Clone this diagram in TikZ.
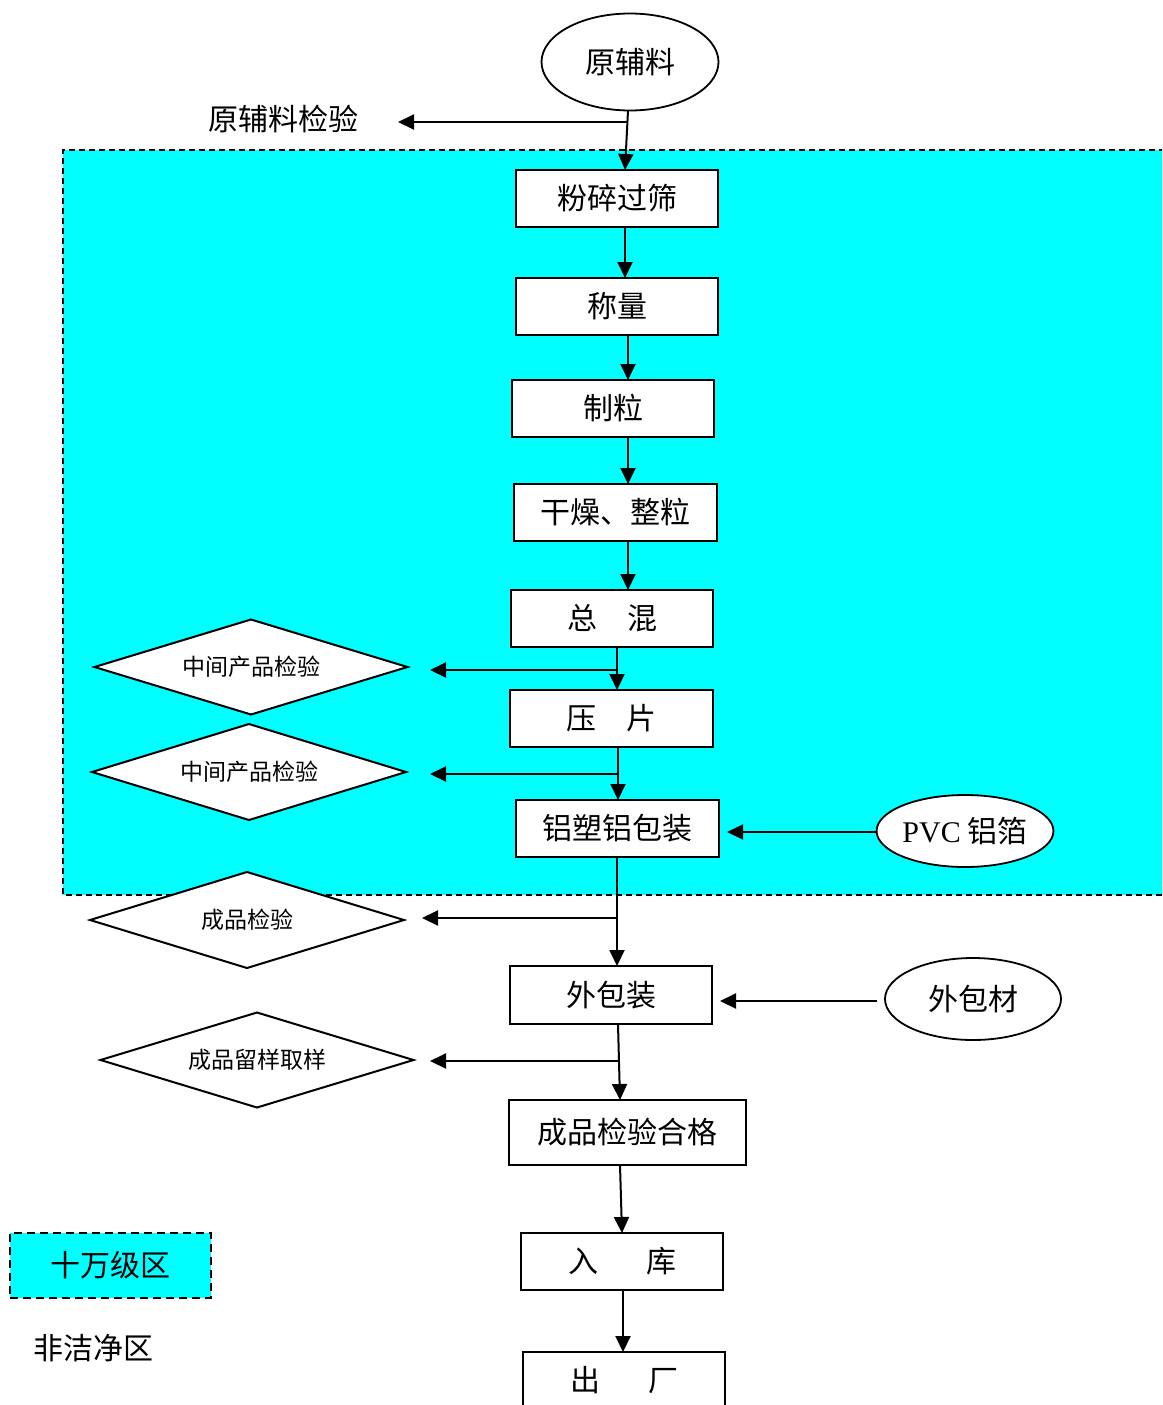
\documentclass[tikz,border=0pt]{standalone}
\usepackage{fontspec}
\setmainfont{Noto Sans CJK SC}
\newfontfamily\lat{Liberation Serif}
\usetikzlibrary{shapes.geometric,arrows.meta}
\definecolor{zone}{HTML}{00FFFF}
\begin{document}
\begin{tikzpicture}[x=1pt,y=-1pt,
  every node/.style={inner sep=0pt,outer sep=0pt},
  big/.style={font=\fontsize{30}{32}\selectfont},
  small/.style={font=\fontsize{23}{25}\selectfont},
  box/.style={draw,line width=2pt,fill=white,minimum width=202pt,minimum height=57pt,big},
  ell/.style={ellipse,draw,line width=1.8pt,fill=white,big},
  dia/.style={diamond,draw,line width=2pt,fill=white,minimum width=313pt,minimum height=95pt,aspect=3.3,small},
  arr/.style={line width=2pt,-{Triangle[length=16pt,width=15pt]}},
  zoneborder/.style={line width=1.2pt,dash pattern=on 6pt off 4pt}]
\useasboundingbox (0,0) rectangle (1162,1405);
\clip (0,0) rectangle (1162,1405);
% clean zone
\fill[zone] (63,150) rectangle (1175,895);
\draw[zoneborder] (1175,150) -- (63,150) -- (63,895) -- (1175,895);

% nodes
\node[ell,minimum width=177pt,minimum height=97pt] (e0) at (630,62) {原辅料};
\node[big] (t0) at (283,119) {原辅料检验};
\node[box] (b1) at (617,198.5) {粉碎过筛};
\node[box] (b2) at (617,306.5) {称量};
\node[box] (b3) at (613,408.5) {制粒};
\node[box,minimum width=203pt] (b4) at (615.5,512.5) {干燥、整粒};
\node[box] (b5) at (612,618.5) {总\hspace{1em}混};
\node[box,minimum width=203pt] (b6) at (611.5,718.5) {压\hspace{1em}片};
\node[box,minimum width=203pt] (b7) at (617.5,828.5) {铝塑铝包装};
\node[box,minimum height=58pt] (b8) at (611,995) {外包装};
\node[box,minimum width=237pt,minimum height=65pt] (b9) at (627.5,1132.5) {成品检验合格};
\node[box] (b10) at (622,1261.5) {入\hspace{1.6em}库};
\node[box] (b11) at (624,1380.5) {出\hspace{1.6em}厂};

\node[ell,minimum width=176pt,minimum height=72pt] (e1) at (965,831) {{\lat PVC} 铝箔};
\node[ell,minimum width=176pt,minimum height=82pt] (e2) at (973,999) {外包材};

\node[dia] (d1) at (251,667) {中间产品检验};
\node[dia,minimum width=314pt,minimum height=96pt] (d2) at (249,772) {中间产品检验};
\node[dia,minimum width=314pt,minimum height=96pt] (d3) at (247,920) {成品检验};
\node[dia] (d4) at (257,1060) {成品留样取样};

\node[draw,fill=zone,line width=2.5pt,dash pattern=on 8pt off 5pt,minimum width=201pt,minimum height=65pt,big] (leg) at (110.5,1265.5) {十万级区};
\node[big] (t1) at (93,1348) {非洁净区};

% junction points and free arrow ends
\coordinate (j0) at (627,122);
\coordinate (a0) at (398,122);
\coordinate (j1) at (617,670);
\coordinate (a1) at (430,670);
\coordinate (j2) at (618,774);
\coordinate (a2) at (430,774);
\coordinate (j3) at (617,918);
\coordinate (a3) at (422,918);
\coordinate (j4) at (618,1061);
\coordinate (a4) at (430,1061);
\coordinate (p1) at (727,832);
\coordinate (p2) at (720,1001);
\coordinate (q2) at (877,1001);

% main flow
\draw[arr] ([xshift=-2pt]e0.south) -- ([xshift=8pt]b1.north);
\draw[arr] (j0) -- (a0);
\draw[arr] ([xshift=8pt]b1.south) -- ([xshift=8pt]b2.north);
\draw[arr] ([xshift=11pt]b2.south) -- ([xshift=15pt]b3.north);
\draw[arr] ([xshift=15pt]b3.south) -- ([xshift=12.5pt]b4.north);
\draw[arr] ([xshift=12.5pt]b4.south) -- ([xshift=16pt]b5.north);
\draw[arr] ([xshift=5pt]b5.south) -- ([xshift=5.5pt]b6.north);
\draw[arr] (j1) -- (a1);
\draw[arr] ([xshift=6.5pt]b6.south) -- ([xshift=0.5pt]b7.north);
\draw[arr] (j2) -- (a2);
\draw[arr] ([xshift=-0.5pt]b7.south) -- ([xshift=6pt]b8.north);
\draw[arr] (j3) -- (a3);
\draw[arr] ([xshift=7pt]b8.south) -- ([xshift=-7.5pt]b9.north);
\draw[arr] (j4) -- (a4);
\draw[arr] ([xshift=-7.5pt]b9.south) -- (b10.north);
\draw[arr] ([xshift=1pt]b10.south) -- ([xshift=-1pt]b11.north);
\draw[arr] (e1.west |- p1) -- (p1);
\draw[arr] (q2) -- (p2);
\end{tikzpicture}
\end{document}
